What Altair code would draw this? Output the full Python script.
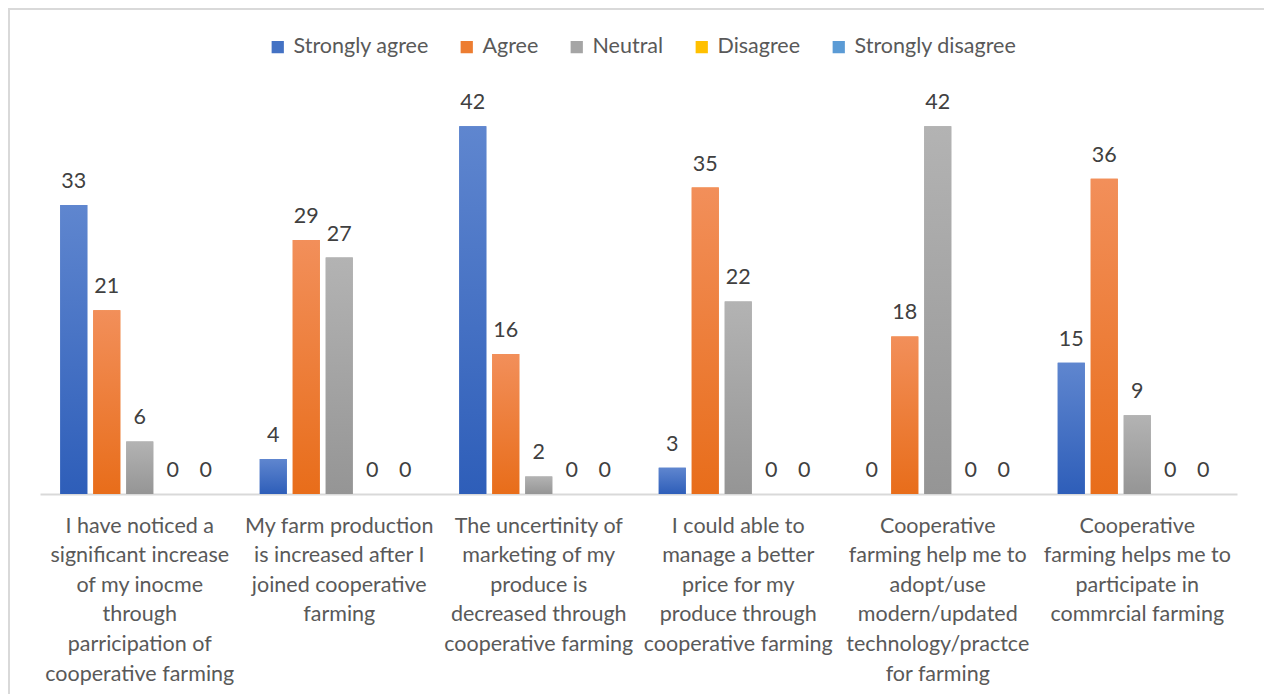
import altair as alt
import pandas as pd

# Survey statements (line breaks follow the wrapped axis labels)
statements = [
    "I have noticed a\nsignificant increase\nof my inocme\nthrough\nparricipation of\ncooperative farming",
    "My farm production\nis increased after I\njoined cooperative\nfarming",
    "The uncertinity of\nmarketing of my\nproduce is\ndecreased through\ncooperative farming",
    "I could able to\nmanage a better\nprice for my\nproduce through\ncooperative farming",
    "Cooperative\nfarming help me to\nadopt/use\nmodern/updated\ntechnology/practce\nfor farming",
    "Cooperative\nfarming helps me to\nparticipate in\ncommrcial farming",
]

responses = ["Strongly agree", "Agree", "Neutral", "Disagree", "Strongly disagree"]
legend_text = ["Strongly agree", " Agree", "Neutral", "Disagree", "Strongly disagree"]

strongly_agree = [33, 4, 42, 3, 0, 15]
agree = [21, 29, 16, 35, 18, 36]
neutral = [6, 27, 2, 22, 42, 9]
disagree = [0, 0, 0, 0, 0, 0]
strongly_disagree = [0, 0, 0, 0, 0, 0]

series_values = [strongly_agree, agree, neutral, disagree, strongly_disagree]

# Solid colours for the legend, plus top/bottom shades for the bar gradients
solid = ["#4472c4", "#ed7d31", "#a5a5a5", "#ffc000", "#5b9bd5"]
grad_top = ["#5f86cf", "#f28f5a", "#b3b3b3", "#ffcd3a", "#74aadb"]
grad_bottom = ["#2e5eb9", "#e86d1a", "#959595", "#f5b800", "#4a8ccc"]

rows = []
for resp, vals in zip(responses, series_values):
    for stmt, v in zip(statements, vals):
        rows.append({"statement": stmt, "response": resp, "value": v})
df = pd.DataFrame(rows)

FONT = "Lato"
TEXT_COLOR = "#595959"
FS = 21.5

x_enc = alt.X(
    "statement:N",
    sort=statements,
    scale=alt.Scale(paddingInner=0.203, paddingOuter=0.1015),
    axis=alt.Axis(
        title=None,
        labelAngle=0,
        labelExpr="split(datum.label, '\\n')",
        labelFontSize=FS,
        labelLineHeight=29.6,
        labelColor=TEXT_COLOR,
        labelFont=FONT,
        labelPadding=21,
        labelOverlap=False,
        labelBound=False,
        labelLimit=0,
        ticks=False,
        domainColor="#d9d9d9",
        domainWidth=2,
    ),
)
xoff_enc = alt.XOffset(
    "response:N",
    sort=responses,
    scale=alt.Scale(domain=responses, paddingInner=0.18, paddingOuter=0),
)
y_enc = alt.Y("value:Q", scale=alt.Scale(domain=[0, 45]), axis=None)

base = alt.Chart(df)

legend_label_expr = "{" + ", ".join(
    f"'{r}': '{t}'" for r, t in zip(responses, legend_text)
) + "}[datum.label]"

legend_bars = base.mark_bar().encode(
    x=x_enc,
    xOffset=xoff_enc,
    y=y_enc,
    color=alt.Color(
        "response:N",
        sort=responses,
        scale=alt.Scale(domain=responses, range=solid),
        legend=alt.Legend(
            title=None,
            orient="none",
            direction="horizontal",
            legendX=227,
            legendY=-64,
            symbolType="square",
            symbolSize=150,
            symbolStrokeWidth=0,
            symbolOpacity=1,
            labelFontSize=FS,
            labelFont=FONT,
            labelColor=TEXT_COLOR,
            labelOffset=5,
            columnPadding=27,
            labelLimit=0,
            labelExpr=legend_label_expr,
        ),
    ),
)

gradient_layers = []
for resp, top, bottom in zip(responses, grad_top, grad_bottom):
    gradient_layers.append(
        base.transform_filter(alt.datum.response == resp)
        .mark_bar(
            color=alt.LinearGradient(
                gradient="linear",
                stops=[
                    alt.GradientStop(color=top, offset=0),
                    alt.GradientStop(color=bottom, offset=1),
                ],
                x1=0, x2=0, y1=0, y2=1,
            )
        )
        .encode(x=x_enc, xOffset=xoff_enc, y=y_enc)
    )

labels = base.mark_text(
    baseline="alphabetic",
    dy=-17,
    fontSize=FS,
    font=FONT,
    color="#404040",
).encode(x=x_enc, xOffset=xoff_enc, y=y_enc, text="value:Q")

# Light outer frame of the chart area
frame = alt.Chart(alt.Data(values=[{}])).mark_rect(
    fill=None, stroke="#d9d9d9", strokeWidth=2
).encode(
    x=alt.value(-31),
    x2=alt.value(1250),
    y=alt.value(-91),
    y2=alt.value(620),
)

chart = (
    alt.layer(frame, legend_bars, *gradient_layers, labels)
    .properties(
        width=1197,
        height=394,
        autosize=alt.AutoSizeParams(type="none"),
        padding={"left": 40, "right": 27, "top": 100, "bottom": 200},
        background="white",
    )
    .configure_view(stroke=None)
)

chart.save("out.html", embed_options={"renderer": "svg", "actions": False})
